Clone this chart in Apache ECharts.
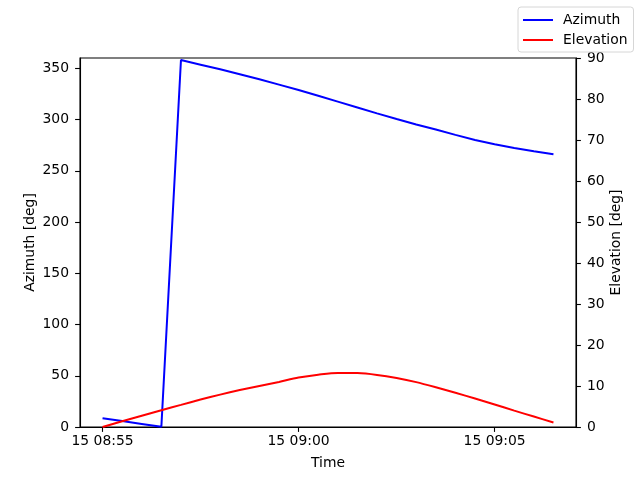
<!DOCTYPE html>
<html>
<head>
<meta charset="utf-8">
<script src="https://cdn.jsdelivr.net/npm/echarts@6/dist/echarts.min.js"></script>
<style>html,body{margin:0;padding:0;background:#fff}#c{width:640px;height:480px}</style>
</head>
<body>
<div id="c"></div>
<script>
// Sample times (day 15)
const times = ["08:55:00","08:55:30","08:56:00","08:56:30","08:57:00","08:57:30","08:58:00","08:58:30",
  "08:59:00","08:59:30","09:00:00","09:00:30","09:01:00","09:01:30","09:02:00","09:02:30",
  "09:03:00","09:03:30","09:04:00","09:04:30","09:05:00","09:05:30","09:06:00","09:06:30"];
const azimuth = [8.6,5.8,3.0,0.2,358.0,353.5,349.0,344.2,339.2,334.0,328.7,323.1,317.4,311.7,306.0,300.5,
  295.2,290.2,285.0,280.0,275.8,272.3,269.0,266.0];
const elevation = [0,1.4,2.75,4.1,5.4,6.7,7.9,9.0,10.0,11.0,12.05,12.75,13.2,13.15,12.7,11.95,
  10.95,9.7,8.35,6.95,5.5,4.0,2.55,1.1];
const xTickLabels = ["15 08:55","15 09:00","15 09:05"];
const azTicks = [0,50,100,150,200,250,300,350];
const elTicks = [0,10,20,30,40,50,60,70,80,90];

function toMin(s){const p=s.split(':').map(Number);return (p[0]*60+p[1]+p[2]/60)-(8*60+55);}
const xTicks = xTickLabels.map(l=>toMin(l.split(' ')[1]+':00'));
const tMin = toMin(times[0]), tMax = toMin(times[times.length-1]);
const pad = (tMax-tMin)*0.05;
const FONT = 'DejaVu Sans';
const FS = 13.9;

const chart = echarts.init(document.getElementById('c'));
const axLine = {show:true, onZero:false, lineStyle:{color:'#000', width:1.1}};
const axTick = {show:true, inside:false, length:4.9, lineStyle:{color:'#000', width:1.1}};
chart.setOption({
  animation:false,
  backgroundColor:'#fff',
  textStyle:{fontFamily:FONT},
  grid:{left:80, right:64, top:58, bottom:53, show:true, borderColor:'#000', borderWidth:1.1, containLabel:false},
  legend:{
    orient:'vertical', left:518, top:7,
    padding:[6,6,5,5], itemGap:6,
    borderColor:'#d6d6d6', borderWidth:1, borderRadius:3, backgroundColor:'rgba(255,255,255,0.8)',
    icon:'rect', itemWidth:30, itemHeight:2,
    textStyle:{fontFamily:FONT, fontSize:FS, color:'#000', padding:[0,0,0,5]},
    data:['Azimuth','Elevation']
  },
  xAxis:{
    type:'value', min:tMin-pad, max:tMax+pad,
    name:'Time', nameLocation:'middle', nameGap:29, nameMoveOverlap:false,
    nameTextStyle:{fontFamily:FONT, fontSize:FS, color:'#000'},
    axisLine:axLine, axisTick:Object.assign({customValues:xTicks}, axTick),
    splitLine:{show:false},
    axisLabel:{customValues:xTicks, margin:7, fontFamily:FONT, fontSize:FS, color:'#000',
      formatter:v=>{const i=xTicks.indexOf(v);return i>=0?xTickLabels[i]:'';}}
  },
  yAxis:[{
    type:'value', min:0, max:360, position:'left',
    name:'Azimuth [deg]', nameLocation:'middle', nameGap:43, nameRotate:90, nameMoveOverlap:false,
    nameTextStyle:{fontFamily:FONT, fontSize:FS, color:'#000'},
    axisLine:axLine, axisTick:Object.assign({customValues:azTicks}, axTick),
    splitLine:{show:false},
    axisLabel:{customValues:azTicks, margin:11, fontFamily:FONT, fontSize:FS, color:'#000'}
  },{
    type:'value', min:0, max:90, position:'right',
    name:'Elevation [deg]', nameLocation:'middle', nameGap:33, nameRotate:90, nameMoveOverlap:false,
    nameTextStyle:{fontFamily:FONT, fontSize:FS, color:'#000'},
    axisLine:axLine, axisTick:Object.assign({customValues:elTicks}, axTick),
    splitLine:{show:false},
    axisLabel:{customValues:elTicks, margin:11, fontFamily:FONT, fontSize:FS, color:'#000'}
  }],
  series:[{
    name:'Azimuth', type:'line', yAxisIndex:0, showSymbol:false, symbol:'none',
    color:'#0000ff', lineStyle:{color:'#0000ff', width:2},
    data:times.map((t,i)=>[toMin(t), azimuth[i]])
  },{
    name:'Elevation', type:'line', yAxisIndex:1, showSymbol:false, symbol:'none',
    smooth:0.3,
    color:'#ff0000', lineStyle:{color:'#ff0000', width:2},
    data:times.map((t,i)=>[toMin(t), elevation[i]])
  }]
});
</script>
</body>
</html>
